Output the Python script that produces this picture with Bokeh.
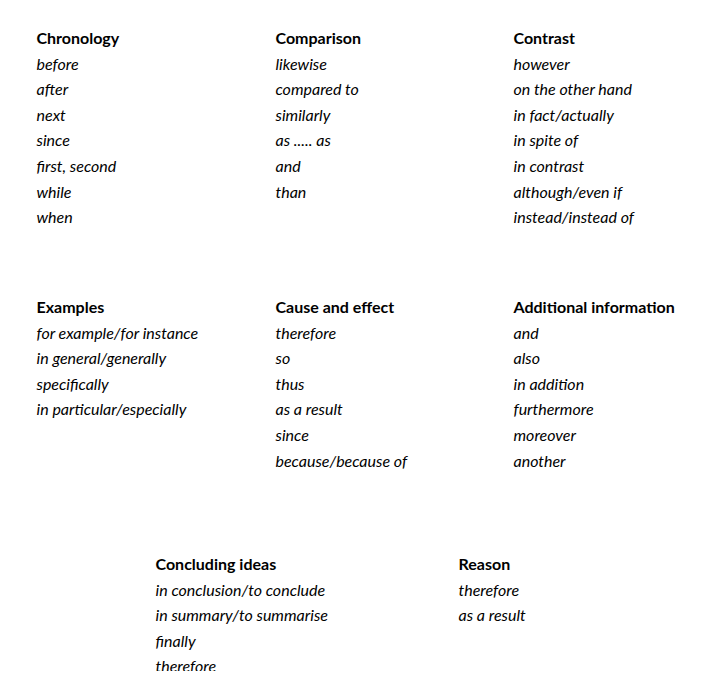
from bokeh.core.properties import value
from bokeh.embed import file_html
from bokeh.models import Range1d
from bokeh.plotting import figure
from bokeh.resources import INLINE

chronology = ["before", "after", "next", "since", "first, second", "while", "when"]
comparison = ["likewise", "compared to", "similarly", "as ..... as", "and", "than"]
contrast = ["however", "on the other hand", "in fact/actually", "in spite of",
            "in contrast", "although/even if", "instead/instead of"]
examples = ["for example/for instance", "in general/generally", "specifically",
            "in particular/especially"]
cause_effect = ["therefore", "so", "thus", "as a result", "since", "because/because of"]
additional = ["and", "also", "in addition", "furthermore", "moreover", "another"]
concluding = ["in conclusion/to conclude", "in summary/to summarise", "finally", "therefore"]
reason = ["therefore", "as a result"]

groups = [
    ("Chronology", chronology, 36, 37),
    ("Comparison", comparison, 275, 37),
    ("Contrast", contrast, 513, 37),
    ("Examples", examples, 36, 306),
    ("Cause and effect", cause_effect, 275, 306),
    ("Additional information", additional, 513, 306),
    ("Concluding ideas", concluding, 155, 563),
    ("Reason", reason, 458, 563),
]

step = 25.6

# ranges chosen so data units match page pixels (8px page margin)
p = figure(width=691, height=671, output_backend="svg", toolbar_location=None,
           x_range=Range1d(8, 699), y_range=Range1d(679, 8), min_border=0)
p.x_range = Range1d(0, 691)
p.y_range = Range1d(671, 0)
p.axis.visible = False
p.grid.visible = False
p.outline_line_color = None

for title, words, gx, gy in groups:
    p.text(x=[gx], y=[gy], text=[title], text_font=value("Lato"),
           text_font_size="16px", text_font_style="bold", text_color="black",
           text_baseline="middle")
    ys = [gy + step * (i + 1) for i in range(len(words))]
    p.text(x=[gx] * len(words), y=ys, text=words, text_font=value("Lato"),
           text_font_size="16px", text_font_style="italic", text_color="black",
           text_baseline="middle")

open("out.html", "w").write(file_html(p, INLINE))
